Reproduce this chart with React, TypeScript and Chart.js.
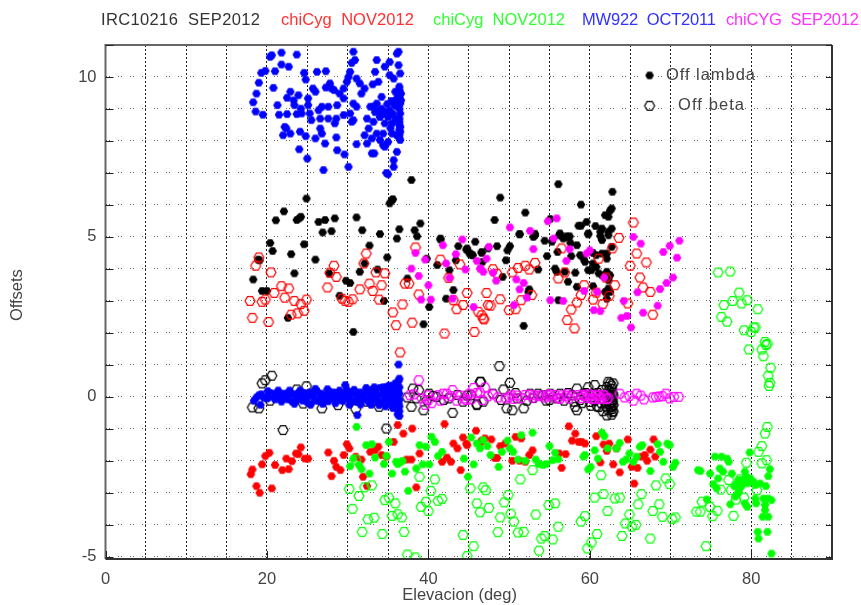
import React, { useEffect, useRef } from "react";
import { Chart, registerables } from "chart.js";

Chart.register(...registerables);

type P = [number, number];

const xTitle = "Elevacion (deg)";
const yTitle = "Offsets";
const xLabelled = [0, 20, 40, 60, 80];
const yLabelled = [10, 5, 0, -5];
const headers: [string, string, number, number][] = [
  ["IRC10216  SEP2012", "#333333", 101, 260],
  ["chiCyg  NOV2012", "#ff3030", 281, 414],
  ["chiCyg  NOV2012", "#30ff30", 433, 565],
  ["MW922  OCT2011", "#3030ff", 582, 716],
  ["chiCYG  SEP2012", "#ff30ff", 726, 859],
];
const keyLabels: [string, number, number][] = [
  ["Off lambda", 666, 755],
  ["Off beta", 678, 744],
];
const keyFilled: P[] = [[67.4, 10.05]];
const keyOpen: P[] = [[67.4, 9.1]];

const blueLambda: P[] = [
  [18.3,9.21],[18.6,8.92],[19.5,8.82],[18.7,9.48],[19.0,9.82],[19.3,10.13],[19.8,10.19],[20.4,10.63],[20.6,10.68],[21.8,10.76],[21.8,10.39],[22.7,10.32],[23.7,10.7],[21.0,10.18],[20.8,9.66],[21.3,9.12],[21.5,8.82],[22.5,8.84],[22.5,9.35],[22.9,9.54],[23.3,9.27],[23.9,9.43],[23.4,9.12],[23.7,8.84],[24.2,9.01],[24.3,8.86],[24.6,10.13],[24.8,9.92],[25.1,9.33],[25.1,9.12],[25.3,8.86],[25.5,8.65],[25.7,9.64],[26.0,9.54],[26.2,10.16],[27.3,10.18],[27.3,9.67],[27.8,9.8],[28.0,9.64],[28.3,9.59],[26.4,8.96],[26.8,9.07],[27.6,9.07],[26.6,8.7],[27.6,8.7],[28.6,8.7],[28.4,8.55],[28.7,9.12],[29.0,9.48],[29.5,9.33],[29.5,9.64],[29.9,9.85],[30.1,10.0],[30.3,10.16],[31.1,9.95],[31.5,9.8],[32.1,9.64],[31.7,9.48],[30.7,9.17],[31.1,9.07],[30.3,8.86],[30.7,8.65],[30.5,8.6],[29.5,8.81],[32.4,8.7],[33.2,8.6],[32.6,8.39],[32.1,8.18],[32.4,7.92],[31.1,7.9],[33.0,8.08],[33.6,8.23],[34.4,8.23],[34.0,8.03],[34.6,7.82],[33.0,7.61],[33.3,7.61],[33.8,9.85],[33.1,9.77],[33.4,10.16],[33.6,10.53],[34.6,10.32],[35.2,10.47],[36.1,10.73],[36.3,10.79],[35.2,10.06],[35.7,9.95],[36.5,10.11],[36.3,10.37],[30.7,10.79],[30.9,10.53],[30.5,10.44],
  [35.9,9.54],[36.3,9.43],[36.6,9.48],[36.1,9.33],[36.6,9.27],[35.7,9.17],[36.5,9.17],[36.3,9.07],[34.2,9.38],[33.6,9.17],[33.2,9.07],[34.2,9.01],[32.8,9.07],[34.4,8.86],[34.0,8.75],[35.2,8.96],[36.5,8.86],[35.9,8.7],[35.0,8.75],[34.6,8.55],[35.5,8.55],[36.5,8.44],[36.5,8.29],[36.1,8.18],[36.5,8.03],[35.5,8.23],[35.0,7.97],[34.4,7.87],[36.1,7.66],[35.7,7.4],[35.7,7.19],[34.8,7.0],[35.0,6.96],
  [30.1,7.19],[29.6,7.58],[28.7,7.71],[27.0,7.09],[25.0,7.45],[24.0,7.74],[24.8,8.15],[24.1,8.29],[22.9,8.23],[22.2,8.44],[22.0,8.18],[22.4,8.39],[26.6,8.39],[26.8,8.23],[26.0,8.08],[27.2,7.92],[28.6,8.11],
  [36.4,9.7],[36.4,9.6],[36.4,9.3],[36.4,9.0],[36.4,8.7],[36.4,8.6],[36.4,8.5],[36.4,8.35],[36.4,8.2],[36.4,8.1],[33.9,8.95],[34.9,9.15],[35.4,9.25],[34.7,8.9],[35.6,8.85],[33.4,8.9],[35.9,9.1],[35.3,8.4],
];

const blueBeta: P[] = [
  [18.4,-0.12],[18.7,-0.02],[19.0,0.05],[19.3,0.08],[19.6,-0.03],[20.0,-0.05],[20.4,0.12],[20.8,0.1],[21.2,0.05],[21.5,-0.04],[21.9,0.1],[22.2,0.02],[22.6,-0.08],[22.9,0.1],[23.3,0.08],[23.6,-0.1],[23.9,-0.04],[24.3,0.04],[24.6,0.12],[24.8,-0.06],[25.0,-0.17],[25.3,0.14],[25.6,0.02],[25.9,-0.12],[26.2,0.18],[26.5,-0.02],[26.8,0.1],[27.1,-0.1],[27.4,0.05],[27.7,0.16],[28.0,-0.05],[28.3,0.02],[28.6,0.12],[28.9,-0.1],[29.2,0.0],[29.5,0.08],[29.7,0.37],[29.9,0.22],[30.1,-0.05],[30.4,0.1],[30.7,-0.12],[31.0,0.07],[31.2,-0.16],[31.5,0.14],[31.8,0],[32.1,-0.08],[32.4,0.16],[32.7,-0.02],[33.0,0.22],[33.2,-0.1],[33.5,0.12],[33.8,-0.15],[34.0,0.28],[34.3,0.08],[34.6,-0.07],[34.8,0.3],[35.0,-0.12],[35.2,0.15],[35.4,-0.2],[35.6,0.35],[35.8,0.02],[36.0,0.4],[36.1,-0.3],[36.2,0.2],[36.3,0.5],[36.4,0.57],[36.4,0.3],[36.4,0.1],[36.4,-0.1],[36.4,-0.3],[36.4,-0.45],[36.4,-0.6],[36.2,-0.55],[36.0,-0.15],[36.3,1.01],[31.2,-0.57],
  [20.2,-0.02],[20.6,0.03],[21.0,-0.08],[22.4,0.1],[23.1,-0.14],[23.8,0.1],[24.4,-0.12],[25.1,0.05],[25.8,0.12],[26.4,-0.13],[27.0,0.02],[27.6,-0.14],[28.2,0.14],[28.8,0.05],[29.4,-0.13],[30.0,0.06],[30.6,0.15],[31.4,-0.05],[32.0,0.12],[32.6,-0.17],[33.1,0.05],[33.7,0.02],[34.2,-0.18],[34.5,0.2],[34.9,0.05],[35.3,-0.06],[35.5,0.12],[35.7,-0.28],[35.9,0.2],[36.1,-0.08],[36.2,0.05],[36.3,-0.22],
  [19.2,-0.25],[20.1,0.18],[21.4,0.2],[21.8,-0.15],[22.8,0.2],[23.4,-0.22],[24.1,0.2],[25.4,-0.25],[26.0,0.25],[26.9,-0.22],[27.5,0.24],[28.5,-0.2],[29.0,0.2],[30.2,-0.25],[30.8,0.22],[31.6,-0.24],[32.3,0.28],[32.9,-0.25],[33.3,0.3],[33.9,-0.26],[34.4,0.3],[34.7,-0.3],[35.1,0.35],[35.6,-0.35],[35.9,0.42],[36.2,-0.42],
];

const blackLambda: P[] = [
  [37.9,6.78],[24.9,6.2],[35.5,6.15],[35.2,6.05],[35.6,6.18],[22.1,5.8],[21.1,5.52],[23.7,5.53],[24.0,5.58],[24.2,5.63],[26.4,5.47],[27.2,5.53],[28.4,5.58],[31.1,5.61],[26.9,5.14],[28.0,5.18],[31.8,5.21],[34.0,5.09],[36.4,5.24],[38.3,5.21],[39.0,5.42],[38.6,5.02],[36.1,4.95],[41.5,4.95],
  [20.4,4.81],[20.7,4.56],[18.9,4.29],[19.1,4.27],[23.0,4.46],[24.6,4.77],[26.0,4.29],[32.7,4.73],[32.1,4.17],[34.9,4.36],[23.4,3.86],[18.3,3.67],[19.4,3.31],[20.0,3.31],[27.7,3.86],[29.8,3.63],[30.3,3.56],[31.5,3.91],[33.7,3.98],[29.0,3.16],[34.5,3.0],[22.6,2.47],[30.7,2.03],[37.4,3.7],[39.8,4.32],[41.1,4.12],[41.5,4.92],[43.7,4.71],[42.6,3.96],[43.1,3.34],[42.2,3.07],[40.1,2.81],[39.4,2.27],[44.8,4.64],[45.2,4.48],[45.4,4.43],[43.4,4.27],[45.8,4.85],[46.6,4.5],[47.4,4.64],
  [44.7,4.6],[45.1,4.48],[45.5,4.43],[46.6,4.53],[48.5,4.71],[50.1,4.71],[49.8,4.58],[51.3,5.08],[53.2,5.05],[53.0,5.0],[49.6,4.27],[46.7,4.22],[53.6,3.98],[49.2,3.75],[52.5,3.36],[52.4,3.28],[54.4,4.88],[54.7,4.4],[51.8,2.22],[55.3,4.85],[56.2,5.05],[56.7,4.95],[56.0,4.53],[57.3,4.98],[57.6,4.81],[58.4,4.74],[57.7,4.4],[58.8,4.43],[59.2,4.32],[59.4,4.22],[59.8,5.08],[55.9,3.91],[55.7,4.01],[56.9,3.91],[58.2,3.88],[57.3,3.6],[58.4,3.44],[56.1,3.02],[60.4,4.17],[60.2,3.96],[60.8,4.06],[61.1,3.86],[61.5,3.8],[60.4,3.46],[59.8,3.96],[60.4,4.5],[60.8,4.43],[61.5,4.48],[62.1,4.48],[62.3,5.05],[61.5,4.9],[61.3,5.16],[62.7,4.69],[62.1,4.32],[62.1,3.91],[62.5,3.8],[62.3,3.65],[62.3,3.39],[61.9,3.28],[62.5,3.28],[62.1,3.07],
  [62.8,6.41],[62.7,5.89],[62.5,5.82],[61.9,5.68],[62.3,5.63],[56.1,6.65],[58.9,6.01],[59.6,5.47],[58.6,5.35],[58.9,5.35],[60.7,5.34],[61.5,5.26],[59.8,5.11],[62.7,5.26],[62.3,5.16],[61.3,5.03],[48.9,6.23],[52.0,5.76],[48.2,5.53],[51.3,5.09],[53.2,5.1],[56.3,5.11],[57.1,5.02],[57.5,5.02],[55.1,5.56],
];

const blackBeta: P[] = [
  [18.2,-0.33],[19.0,-0.36],[19.4,0.42],[19.8,0.52],[20.6,0.66],[22.0,-1.04],[20.4,-0.12],[23.7,0.23],[24.9,0.33],[24.5,-0.21],[26.8,-0.36],[28.8,-0.26],[31.0,-0.38],[32.4,-0.15],[33.9,-0.31],[34.8,-0.99],[38.1,0.26],[38.8,0.21],[39.4,-0.42],[37.9,-0.31],[40.1,0.1],[43.0,-0.5],[41.0,0.0],[41.9,-0.1],[44.3,-0.15],[46.0,-0.23],[46.5,0.47],[37.4,-0.02],[38.5,-0.05],[39.8,-0.1],[40.6,0.03],[42.5,-0.05],[43.6,0.06],[44.8,0.04],
  [48.8,0.96],[46.4,0.47],[50.1,0.44],[49.3,0.23],[45.3,0.05],[46.0,-0.26],[46.8,-0.15],[48.0,0.1],[49.7,-0.36],[50.4,-0.42],[51.8,-0.36],[52.6,0.1],[53.6,0.1],[55.1,0.1],[56.3,0.1],[58.4,0.26],[58.2,-0.31],[59.8,0.3],[60.6,0.37],[59.2,0.1],[58.4,-0.42],[61.5,0.21],[62.1,0.31],[62.5,0.42],[62.3,0.47],[62.9,0.42],[62.7,0.25],[62.8,0.12],[62.7,0.02],[62.8,-0.08],[62.7,-0.18],[62.8,-0.28],[62.7,-0.38],[62.8,-0.48],[62.7,-0.56],[62.1,-0.58],[61.1,-0.32],[61.8,-0.12],[62.2,0.1],[62.4,-0.22],[62.3,-0.42],[60.1,-0.28],[60.6,-0.12],[61.0,0.12],[57.8,0.05],[58.8,-0.1],[59.5,0.12],[60.0,-0.16],[55.9,-0.05],[54.2,0.05],[53.0,-0.04],[51.0,-0.05],[49.0,-0.1],[61.6,-0.45],[62.5,0.05],[62.0,-0.3],
  [62.7,0.35],[62.8,-0.15],[62.3,0.2],[62.4,0.0],[62.6,-0.32],[62.9,0.05],[62.9,-0.25],[62.9,-0.45],[61.3,0.05],[61.4,-0.2],[60.9,-0.3],[60.4,0.1],[59.0,-0.2],[58.0,-0.15],[57.3,0.12],[56.8,-0.12],[55.0,-0.1],[54.6,-0.12],[52.2,-0.12],[50.8,0.12],
];

const redLambda: P[] = [
  [18.2,-2.27],[18.0,-2.42],[18.7,-2.79],[19.1,-3.0],[19.4,-2.11],[19.8,-1.85],[20.3,-1.75],[21.0,-2.13],[20.6,-2.86],[21.9,-2.29],[22.7,-2.26],[22.4,-1.93],[23.1,-2.01],[23.6,-1.77],[23.9,-1.79],[24.2,-1.58],[24.7,-1.93],[25.1,-1.93],[27.6,-1.74],[28.3,-2.0],[28.0,-2.48],[28.6,-2.19],[29.1,-2.29],[29.5,-1.82],[29.9,-1.48],[30.2,-1.61],[31.0,-1.87],[31.7,-1.96],[31.9,-2.5],[32.4,-2.79],[32.8,-1.72],[33.4,-1.67],[33.8,-1.56],[34.2,-1.82],[34.8,-1.87],[36.2,-0.88],[36.9,-1.15],[38.0,-0.99],[35.7,-1.41],[37.3,-1.96],[37.9,-1.96],[38.9,-1.77],[38.5,-2.83],[42.0,-0.85],[43.1,-1.46],[43.6,-1.61],[44.3,-1.27],[45.9,-1.06],[44.8,-1.51],[42.3,-1.9],[42.8,-2.03],[41.7,-2.03],[44.0,-2.29],[46.6,-1.37],
  [44.7,-1.46],[46.5,-1.41],[47.0,-1.3],[47.8,-1.33],[48.9,-1.54],[49.5,-1.46],[48.2,-1.91],[48.5,-1.91],[50.8,-1.25],[51.5,-1.3],[50.4,-2.0],[51.3,-2.0],[52.5,-1.82],[52.9,-1.67],[52.0,-2.03],[56.5,-2.22],[56.2,-1.77],[57.0,-1.79],[57.4,-0.92],[58.2,-1.15],[57.8,-1.37],[58.6,-1.41],[59.0,-1.41],[59.4,-1.46],[60.8,-1.23],[61.7,-1.49],[62.4,-1.46],[62.1,-1.69],[63.3,-1.61],[64.7,-1.33],[61.3,-2.05],[62.9,-2.11],[63.7,-2.36],[65.2,-2.19],[65.9,-2.22],[65.5,-2.71],[66.4,-1.87],[66.8,-1.82],[67.1,-2.0],[67.5,-1.65],[67.9,-1.33],[68.1,-1.87],
];

const redBeta: P[] = [
  [17.9,3.0],[18.2,2.47],[18.6,4.1],[19.0,4.36],[19.4,2.97],[19.8,3.04],[20.2,2.34],[20.5,3.89],[20.9,3.25],[21.8,3.46],[22.7,3.39],[22.2,3.1],[23.4,3.0],[24.2,2.9],[24.9,3.04],[24.6,2.69],[23.8,2.61],[23.0,2.57],[27.5,3.42],[28.3,4.1],[28.6,3.75],[27.8,3.88],[29.3,3.07],[29.7,3.0],[30.1,2.97],[30.6,3.05],[31.5,3.36],[32.7,3.54],[33.1,3.31],[34.2,3.49],[33.5,3.89],[34.6,3.86],[32.3,4.48],[32.0,4.17],[33.9,3.04],[35.6,2.64],[36.8,2.89],[36.0,2.24],[38.0,2.32],[36.5,1.39],[37.1,3.54],[37.6,3.54],[38.4,4.67],[38.8,3.2],[41.5,4.29],[42.0,1.98],[42.5,3.72],[43.1,3.02],[43.5,2.74],[44.3,2.87],[44.8,3.25],[43.9,4.14],[47.2,3.25],[46.2,2.66],[46.8,2.45],[45.7,2.03],[47.4,2.87],
  [46.6,2.55],[46.9,2.42],[47.7,2.85],[48.0,3.99],[48.5,3.85],[48.9,3.05],[50.0,2.71],[50.8,2.74],[51.5,3.02],[52.8,3.18],[50.4,3.89],[51.1,4.03],[52.0,4.1],[52.5,3.98],[53.2,4.19],[56.5,4.64],[56.9,3.89],[56.1,3.7],[59.3,3.49],[58.9,3.18],[58.4,2.95],[57.7,2.73],[57.2,2.4],[58.1,2.14],[60.4,3.04],[60.8,3.26],[61.6,2.9],[61.1,4.32],[62.0,3.73],[62.8,4.64],[62.4,3.16],[63.1,3.49],[64.7,2.92],[63.6,4.97],[65.0,4.1],[65.8,4.48],[67.0,4.2],[66.2,3.73],[66.6,3.42],[67.5,3.28],[67.8,2.57],[65.4,5.45],
];

const greenLambda: P[] = [
  [31.1,-0.94],[30.3,-2.17],[30.7,-1.93],[31.4,-2.13],[31.7,-2.26],[32.7,-2.4],[32.3,-1.51],[33.0,-1.48],[33.4,-1.9],[34.5,-2.1],[34.8,-1.85],[35.1,-1.41],[35.5,-2.4],[36.0,-2.03],[36.2,-2.1],[36.5,-2.05],[36.8,-2.0],[37.1,-2.34],[37.5,-2.94],[38.5,-2.24],[39.3,-2.11],[40.1,-2.11],[38.9,-1.51],[39.7,-1.56],[40.4,-1.25],[40.8,-1.41],[41.2,-1.85],[41.7,-1.72],[44.4,-1.93],[44.9,-2.5],[45.6,-2.11],[45.3,-1.27],[46.0,-1.46],[46.4,-1.61],[46.8,-1.35],[47.3,-1.54],
  [47.7,-1.82],[48.7,-2.19],[49.1,-1.72],[49.8,-1.37],[50.1,-1.61],[50.5,-1.72],[51.1,-1.96],[52.0,-2.0],[51.5,-1.2],[52.9,-1.12],[53.3,-1.96],[53.7,-2.1],[54.2,-2.13],[54.6,-2.1],[55.0,-1.54],[55.4,-1.98],[56.1,-1.95],[55.7,-1.75],[59.2,-1.87],[59.4,-1.82],[59.8,-2.27],[60.1,-2.19],[60.6,-1.67],[61.0,-1.93],[61.5,-1.12],[61.8,-1.23],[62.2,-1.61],[63.3,-1.61],[63.7,-1.44],[64.1,-2.03],[64.5,-1.96],[64.9,-1.77],[65.4,-2.03],[65.8,-1.87],[66.2,-1.56],[66.5,-1.51],[68.4,-1.48],[68.7,-1.72],[69.1,-2.03],[69.6,-1.46],[69.9,-1.51],[70.3,-2.19],[70.6,-2.06],[67.5,-2.32],
  [73.4,-2.29],[73.7,-2.32],[74.9,-2.4],[75.5,-1.87],[76.3,-1.87],[77.0,-1.93],[77.2,-2.03],[76.1,-2.24],[76.5,-2.34],[77.6,-2.4],[75.9,-2.55],[75.3,-2.73],[75.7,-2.86],[78.2,-2.71],[78.6,-2.86],[78.4,-3.0],[79.0,-2.6],[79.4,-2.5],[79.2,-2.34],[79.8,-1.74],[79.9,-2.55],[80.3,-2.66],[80.5,-2.76],[81.1,-2.71],[81.8,-2.79],[82.3,-2.26],[82.1,-2.48],[80.5,-3.18],[80.6,-3.33],[81.5,-3.18],[82.1,-3.18],[82.5,-3.23],[81.7,-3.38],[81.7,-3.54],[81.4,-3.75],[82.1,-3.75],[80.8,-4.22],[80.9,-4.43],[82.0,-4.22],[82.5,-4.9],[78.0,-3.12],[77.4,-3.36],[79.2,-3.33],[79.5,-3.44],[74.5,-3.21],[78.9,-2.75],[78.5,-2.6],[77.9,-2.8],[79.6,-2.7],
];

const greenBeta: P[] = [
  [30.2,-2.88],[31.4,-3.1],[30.6,-3.5],[31.0,-1.96],[32.1,-2.83],[33.0,-2.77],[31.8,-4.22],[32.5,-3.83],[33.3,-3.78],[34.3,-4.29],[34.6,-3.23],[35.1,-3.15],[35.9,-3.33],[35.5,-3.72],[36.2,-3.67],[36.7,-3.77],[37.0,-4.22],[37.4,-4.93],[38.4,-5.02],[38.9,-2.5],[40.8,-2.58],[40.3,-2.94],[39.7,-3.28],[39.1,-3.44],[40.0,-3.57],[41.2,-3.25],[41.7,-3.19],[44.3,-4.32],[45.6,-4.67],[44.8,-4.98],[45.2,-2.86],[46.8,-2.83],[47.1,-2.92],[46.0,-3.33],[46.4,-3.61],[47.5,-3.47],
  [48.9,-3.77],[49.4,-3.3],[49.9,-3.07],[48.6,-4.23],[50.2,-3.65],[50.6,-3.9],[51.1,-4.24],[51.8,-4.22],[51.4,-2.58],[52.9,-2.29],[53.3,-3.68],[53.7,-4.81],[54.0,-4.43],[54.4,-4.35],[54.9,-3.38],[55.7,-3.33],[55.4,-4.46],[56.1,-4.06],[58.9,-3.9],[59.4,-3.73],[59.7,-4.74],[60.2,-4.55],[60.9,-4.29],[60.6,-3.15],[61.7,-3.04],[61.4,-2.45],[62.2,-3.57],[63.1,-3.18],[63.7,-3.15],[64.0,-4.35],[64.4,-3.96],[64.9,-3.68],[65.2,-4.06],[65.7,-4.0],[66.0,-3.36],[66.4,-3.04],[67.5,-4.43],[67.8,-3.57],[68.6,-3.36],[68.2,-2.77],[69.4,-2.55],[69.9,-2.73],[69.0,-3.75],[70.2,-3.82],[70.6,-3.77],[73.2,-3.59],[73.7,-3.59],[73.9,-3.28],[74.4,-4.67],[74.9,-3.44],[75.2,-3.73],[75.8,-3.56],[76.2,-2.9],[77.2,-2.6],[77.5,-2.92],[77.8,-3.72],[78.1,-3.21],[78.6,-2.58],[79.1,-3.15],[79.4,-2.06],[80.7,-2.92],[80.9,-1.72],[81.3,-1.54],[81.7,-1.15],[82.0,-0.94],[81.3,-2.08],[81.9,-1.98],
  [75.9,3.89],[77.4,3.92],[78.5,3.26],[77.7,3.0],[78.8,2.92],[79.5,3.02],[76.6,2.87],[80.8,2.74],[76.3,2.5],[77.0,2.35],[79.1,2.08],[80.0,2.03],[80.5,2.17],[80.3,2.17],[81.7,1.72],[82.0,1.65],[81.8,1.62],[81.3,1.48],[79.7,1.48],[81.5,1.27],[82.4,0.91],[82.1,0.66],[82.3,0.44],[82.2,0.34],
];

const magentaLambda: P[] = [
  [44.2,4.92],[41.8,4.74],[38.4,4.5],[39.6,4.29],[37.9,4.01],[38.8,3.78],[40.0,3.49],[39.1,3.04],[40.3,3.04],[42.2,4.17],[43.4,4.46],[44.6,3.98],[42.6,3.72],[43.0,3.07],[45.6,2.81],[46.0,4.25],[46.4,4.01],[47.2,4.32],
  [46.5,4.01],[46.8,3.91],[47.5,4.69],[48.0,3.88],[48.4,3.63],[50.9,3.67],[51.8,3.56],[51.3,3.36],[52.2,3.1],[50.6,2.87],[53.0,4.62],[55.1,3.02],[56.7,3.0],[57.1,4.25],[57.5,4.62],[59.6,4.48],[60.0,4.58],[59.3,3.31],[60.5,2.71],[61.3,2.68],[60.9,3.28],[61.8,3.73],[64.2,3.0],[63.9,2.47],[64.6,2.53],[65.1,2.17],[65.9,3.27],[66.6,2.63],[68.4,2.85],[68.7,3.37],[69.5,3.56],[70.3,3.73],[70.8,4.35],[69.1,4.53],[69.9,4.72],[71.1,4.88],[66.3,4.79],[65.4,5.0],
  [50.1,5.3],[52.6,5.19],[54.8,5.49],[55.9,5.58],[55.5,4.95],
];

const magentaBeta: P[] = [
  [37.7,0.05],[38.2,0.08],[38.8,0.52],[39.2,-0.05],[39.6,-0.25],[40.0,-0.1],[40.4,-0.2],[41.2,0.05],[41.8,0.1],[42.3,0.1],[43.0,0.21],[43.5,-0.12],[44.0,0.04],[44.4,-0.05],[45.1,0.1],[45.6,0.28],[46.0,0.12],[46.4,0.14],[47.0,0.29],[47.4,0.02],[48.0,0.08],[48.6,-0.02],[50.0,0.0],[50.5,-0.06],[51.0,0.04],[51.5,-0.04],[52.0,0.06],[52.6,0.07],[53.1,0.05],[53.6,0.02],[54.4,-0.02],[54.8,0.04],[55.3,-0.02],[55.7,0.06],[56.1,-0.03],[56.5,0.05],[57.0,0.02],[57.4,-0.05],[57.8,0.04],[58.9,-0.04],[59.3,0.03],[59.7,-0.04],[60.1,0.04],[60.6,-0.05],[61.0,0.03],[61.4,-0.03],[61.9,0.02],[62.3,-0.04],[63.7,0.1],[64.3,-0.02],[64.9,0.03],[65.4,-0.12],[65.8,0.1],[66.3,0.04],[66.7,-0.08],[67.8,-0.02],[68.2,0],[68.6,0.01],[69.0,0.02],[69.4,0.1],[69.9,-0.05],[70.4,0],[71.0,0],
  [54.0,0.05],[55.0,0.08],[56.3,-0.06],[57.2,0.08],[58.6,0.06],[59.1,0.07],[59.9,0.08],[60.3,-0.07],[60.8,0.07],[61.2,-0.07],[61.7,0.06],[62.1,-0.07],[52.9,-0.03],[50.3,0.05],[49.6,-0.05],[46.7,-0.1],[45.3,-0.08],[44.7,-0.1],[39.9,0.05],[41.5,-0.12],[42.8,0.02],
];

function sprite(color: string, filled: boolean): HTMLCanvasElement {
  const c = document.createElement("canvas");
  c.width = 14;
  c.height = 14;
  const g = c.getContext("2d")!;
  const r = filled ? 4.3 : 5.0;
  g.beginPath();
  for (let i = 0; i < 6; i++) {
    const a = (Math.PI / 3) * i;
    const px = 7 + r * Math.cos(a);
    const py = 7 + r * Math.sin(a);
    if (i === 0) g.moveTo(px, py);
    else g.lineTo(px, py);
  }
  g.closePath();
  if (filled) {
    g.fillStyle = color;
    g.fill();
  } else {
    g.strokeStyle = color;
    g.lineWidth = 1.2;
    g.stroke();
  }
  return c;
}

function series(label: string, pts: P[], color: string, filled: boolean) {
  return {
    label,
    data: pts.map(([x, y]) => ({ x, y })),
    pointStyle: sprite(color, filled),
    pointRadius: filled ? 4.3 : 5,
    backgroundColor: filled ? color : "transparent",
    borderColor: color,
    showLine: false,
  };
}

const FONT = '"Liberation Sans", sans-serif';

const overlay = {
  id: "overlay",
  afterDraw(chart: any) {
    const { ctx, chartArea: a, scales } = chart;
    ctx.save();
    ctx.setLineDash([]);
    ctx.strokeStyle = "#666666";
    ctx.lineWidth = 2;
    ctx.beginPath();
    ctx.moveTo(a.left, a.bottom);
    ctx.lineTo(a.left, a.top);
    ctx.lineTo(a.right, a.top);
    ctx.stroke();
    ctx.strokeStyle = "#333333";
    ctx.beginPath();
    ctx.moveTo(a.right, a.top);
    ctx.lineTo(a.right, a.bottom);
    ctx.lineTo(a.left, a.bottom);
    ctx.stroke();
    ctx.lineWidth = 1;
    ctx.strokeStyle = "#222222";
    ctx.beginPath();
    for (const t of scales.y.ticks) {
      const py = Math.round(scales.y.getPixelForValue(t.value)) + 0.5;
      ctx.moveTo(a.left, py);
      ctx.lineTo(a.left + 8, py);
      ctx.moveTo(a.right, py);
      ctx.lineTo(a.right - 6, py);
    }
    for (const v of xLabelled) {
      const px = Math.round(scales.x.getPixelForValue(v)) + 0.5;
      ctx.moveTo(px, a.bottom);
      ctx.lineTo(px, a.bottom - 8);
    }
    ctx.stroke();

    ctx.font = "16.5px " + FONT;
    ctx.textBaseline = "middle";
    ctx.textAlign = "left";
    const fit = (text: string, x0: number, x1: number, y: number, color: string) => {
      (ctx as any).letterSpacing = "0px";
      const w = ctx.measureText(text).width;
      (ctx as any).letterSpacing = (x1 - x0 - w) / Math.max(1, text.length - 1) + "px";
      ctx.fillStyle = color;
      ctx.fillText(text, x0, y);
      (ctx as any).letterSpacing = "0px";
    };
    for (const [text, color, x0, x1] of headers) fit(text, x0, x1, 20, color);
    fit(keyLabels[0][0], keyLabels[0][1], keyLabels[0][2], 75, "#444444");
    fit(keyLabels[1][0], keyLabels[1][1], keyLabels[1][2], 105, "#444444");
    ctx.restore();
  },
};

export default function App() {
  const ref = useRef<HTMLCanvasElement>(null);
  useEffect(() => {
    document.body.style.margin = "0";
    const drawn = [
      series("IRC10216 Off beta", blackBeta, "#000000", false),
      series("IRC10216 Off lambda", blackLambda, "#000000", true),
      series("chiCyg Nov Off beta", redBeta, "#ff0000", false),
      series("chiCyg Nov Off lambda", redLambda, "#ff0000", true),
      series("chiCyg Nov2 Off beta", greenBeta, "#00ff00", false),
      series("chiCyg Nov2 Off lambda", greenLambda, "#00ff00", true),
      series("MW922 Off beta", blueBeta, "#0000ff", true),
      series("MW922 Off lambda", blueLambda, "#0000ff", true),
      series("chiCYG Sep Off beta", magentaBeta, "#ff00ff", false),
      series("chiCYG Sep Off lambda", magentaLambda, "#ff00ff", true),
      series("key lambda", keyFilled, "#000000", true),
      series("key beta", keyOpen, "#000000", false),
    ];
    const chart = new Chart(ref.current!, {
      type: "scatter",
      data: { datasets: drawn.reverse() as any },
      plugins: [overlay],
      options: {
        animation: false,
        responsive: false,
        layout: { padding: { top: 45, right: 29, left: 0, bottom: 0 } },
        plugins: { legend: { display: false }, tooltip: { enabled: false }, title: { display: false } },
        scales: {
          x: {
            type: "linear",
            min: 0,
            max: 90,
            afterFit: (s: any) => { s.height = 46; },
            grid: { color: "#222222", lineWidth: 1, drawTicks: false },
            border: { display: false, dash: [2, 2] },
            ticks: {
              stepSize: 5,
              padding: 11,
              maxRotation: 0,
              autoSkip: false,
              color: "#444444",
              font: { family: FONT, size: 16.5 },
              callback: (v: any) => (xLabelled.includes(Number(v)) ? String(v) : ""),
            },
            title: { display: true, text: xTitle + "    ", color: "#444444", font: { family: FONT, size: 16.5 }, padding: { top: 0, bottom: 0 } },
          },
          y: {
            type: "linear",
            min: -5.07,
            max: 11,
            afterFit: (s: any) => { s.width = 105.5; },
            grid: { color: "#666666", lineWidth: 1, drawTicks: false },
            border: { display: false, dash: [1, 2, 1, 8] },
            ticks: {
              stepSize: 1,
              includeBounds: false,
              padding: 9,
              autoSkip: false,
              color: "#444444",
              font: { family: FONT, size: 16.5 },
              callback: (v: any) => (yLabelled.includes(Number(v)) ? String(v) : ""),
            },
            title: { display: true, text: "   " + yTitle, color: "#444444", font: { family: FONT, size: 16.5 }, padding: { top: 8, bottom: 0 } },
          },
        },
      } as any,
    });
    return () => chart.destroy();
  }, []);
  return <canvas ref={ref} width={861} height={605} style={{ display: "block", width: 861, height: 605 }} />;
}
